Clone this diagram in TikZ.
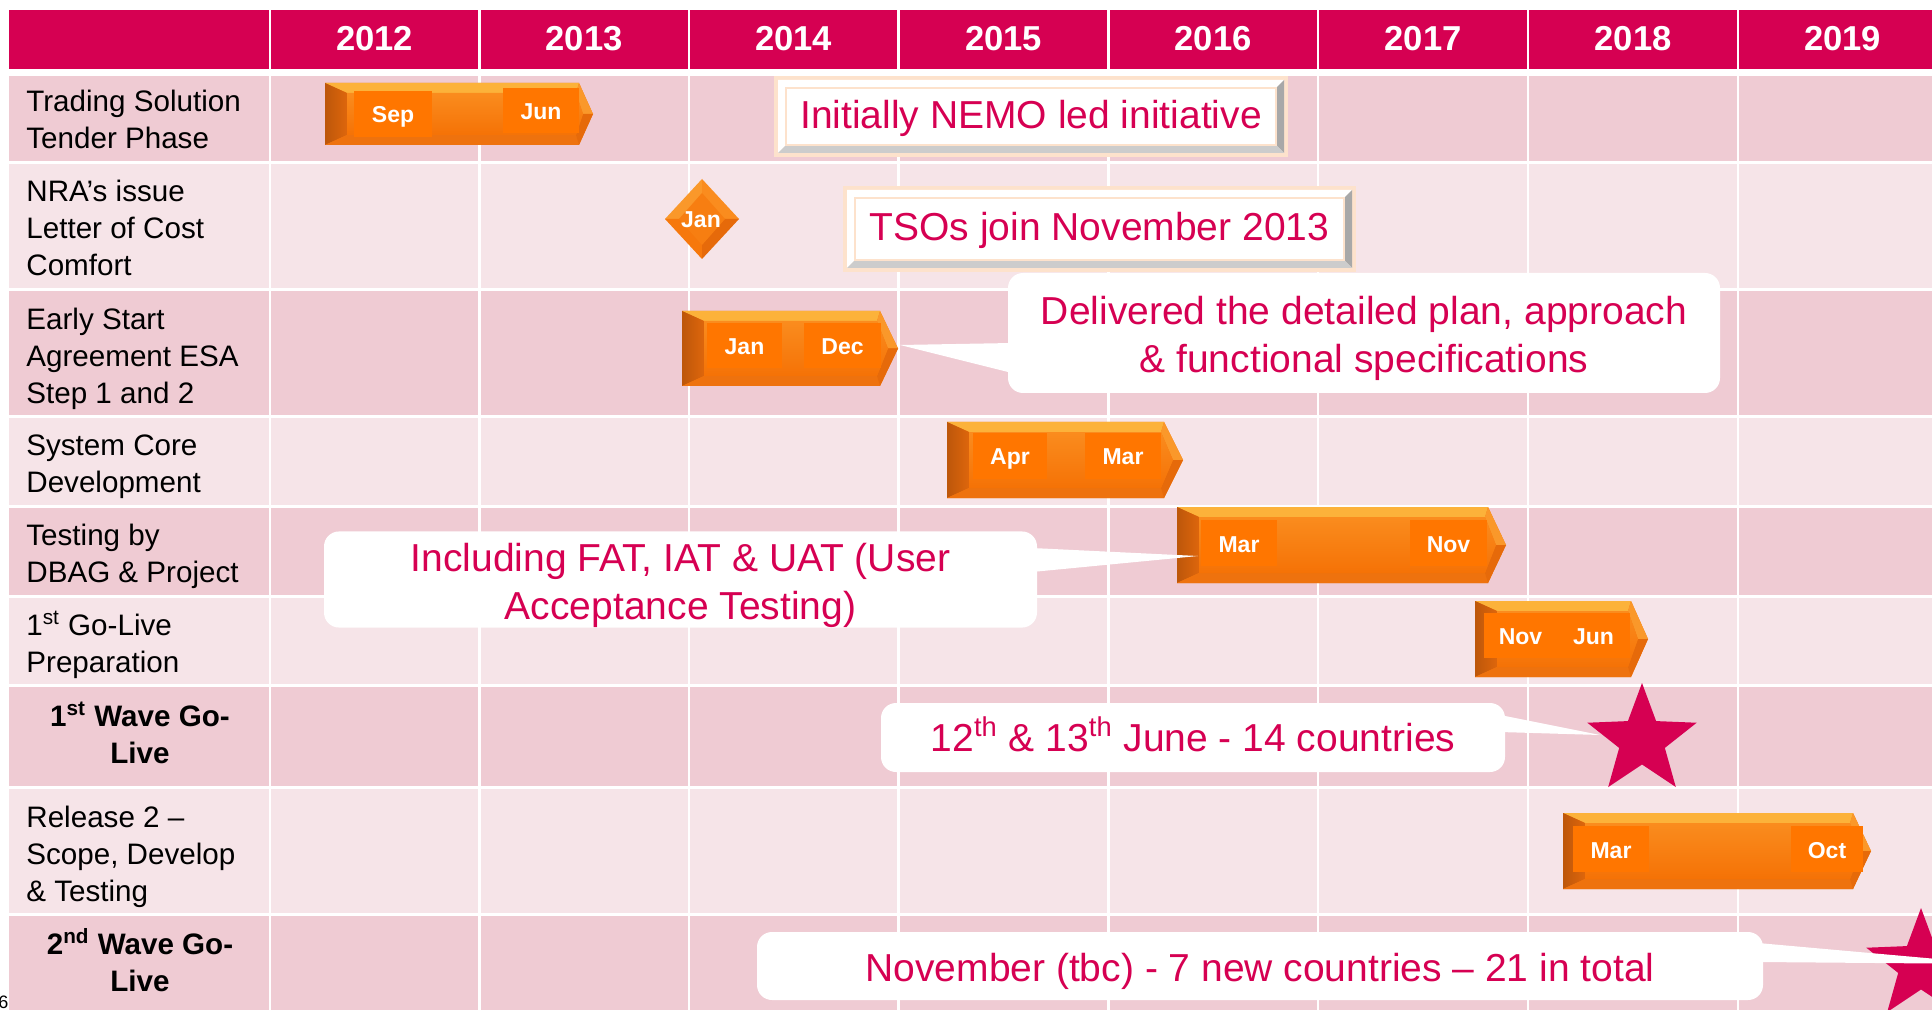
\documentclass[tikz,border=0pt]{standalone}
\usepackage{fontspec}
\setmainfont{Liberation Sans}
\usetikzlibrary{calc}
\definecolor{brand}{RGB}{214,0,82}
\definecolor{rowdark}{RGB}{239,203,211}
\definecolor{rowlight}{RGB}{246,228,232}
\definecolor{orMain}{RGB}{246,120,12}
\definecolor{orTop}{RGB}{252,178,58}
\definecolor{orLeft}{RGB}{222,102,12}
\definecolor{orBot}{RGB}{238,114,14}
\definecolor{orRU}{RGB}{250,152,42}
\definecolor{orRL}{RGB}{230,106,10}
\definecolor{orFaceT}{RGB}{250,140,30}
\definecolor{orFaceB}{RGB}{245,114,6}
\definecolor{orLab}{RGB}{255,118,0}
\definecolor{peach}{RGB}{253,226,204}
\definecolor{bevgray}{RGB}{204,204,204}
\definecolor{bevdark}{RGB}{168,168,168}

\newcommand{\orangebar}[5]{%
  \pgfmathsetmacro{\ymid}{(#4+#5)/2}
  \fill[orMain] (#1,#4) -- (#2,#4) -- (#3,\ymid) -- (#2,#5) -- (#1,#5) -- cycle;
  \fill[orTop] (#1,#4) -- (#2,#4) -- ({#2-3},{#4+10}) -- ({#1+22},{#4+10}) -- cycle;
  \shade[left color=orLeft!85!black, right color=orLeft] (#1,#4) -- ({#1+22},{#4+10}) -- ({#1+22},{#5-10}) -- (#1,#5) -- cycle;
  \fill[orBot] (#1,#5) -- ({#1+22},{#5-10}) -- ({#2-3},{#5-10}) -- (#2,#5) -- cycle;
  \fill[orRU] (#2,#4) -- (#3,\ymid) -- ({#3-10},\ymid) -- ({#2-3},{#4+10}) -- cycle;
  \fill[orRL] (#2,#5) -- (#3,\ymid) -- ({#3-10},\ymid) -- ({#2-3},{#5-10}) -- cycle;
  \shade[top color=orFaceT, bottom color=orFaceB] ({#1+22},{#4+10}) -- ({#2-3},{#4+10}) -- ({#3-10},\ymid) -- ({#2-3},{#5-10}) -- ({#1+22},{#5-10}) -- cycle;
}
\newcommand{\bevelframe}[4]{%
  \fill[peach] ({#1-12},{#2-12}) rectangle ({#3+12},{#4+12});
  \fill[white] ({#1-8},{#2-8}) -- ({#3+8},{#2-8}) -- (#3,#2) -- (#1,#2) -- (#1,#4) -- ({#1-8},{#4+8}) -- cycle;
  \fill[bevdark] ({#3+8},{#2-8}) -- ({#3+8},{#4+8}) -- (#3,#4) -- (#3,#2) -- cycle;
  \fill[bevgray] ({#1-8},{#4+8}) -- ({#3+8},{#4+8}) -- (#3,#4) -- (#1,#4) -- cycle;
}

\tikzset{
  yearlab/.style={anchor=base, inner sep=0pt, text=white, font=\fontsize{17.3}{20}\selectfont\bfseries},
  rowlab/.style={anchor=base west, inner sep=0pt, font=\fontsize{14.8}{18.5}\selectfont},
  rowlabb/.style={anchor=base, inner sep=0pt, font=\fontsize{14.8}{18.5}\selectfont\bfseries},
  blab/.style={fill=orLab, text=white, inner sep=0pt, font=\fontsize{11.5}{13}\selectfont\bfseries, text height=10pt, text depth=1pt},
  callout/.style={fill=white, rounded corners=7.5pt, text=brand, inner sep=0pt, align=center, font=\fontsize{19.5}{24}\selectfont},
  bevface/.style={fill=white, draw=peach, line width=1.2pt, text=brand, inner sep=0pt, font=\fontsize{19.5}{24}\selectfont, text height=13pt, text depth=1pt},
  ptr/.style={fill=white},
  starc/.style={fill=brand},
}

\begin{document}
\begin{tikzpicture}[x=0.5pt, y=-0.5pt]
\useasboundingbox[fill=white] (0,0) rectangle (1932,1010);

% header
\fill[brand] (9,10) rectangle (1932,69);
% rows
\fill[rowdark]  (9,76)  rectangle (1932,161);
\fill[rowlight] (9,164) rectangle (1932,288);
\fill[rowdark]  (9,291) rectangle (1932,415);
\fill[rowlight] (9,418) rectangle (1932,505);
\fill[rowdark]  (9,508) rectangle (1932,595);
\fill[rowlight] (9,598) rectangle (1932,684);
\fill[rowdark]  (9,687) rectangle (1932,786);
\fill[rowlight] (9,789) rectangle (1932,913);
\fill[rowdark]  (9,916) rectangle (1932,1010);
% column lines
\foreach \cx in {270,479.5,689,898.5,1108.5,1318,1528,1738}
  \draw[white, line width=1.1pt] (\cx,10) -- (\cx,1010);

% years
\node[yearlab] (y12) at (374.7,51) {2012};
\node[yearlab] (y13) at (584.2,51) {2013};
\node[yearlab] (y14) at (793.7,51) {2014};
\node[yearlab] (y15) at (1003.5,51) {2015};
\node[yearlab] (y16) at (1213.2,51) {2016};
\node[yearlab] (y17) at (1423,51) {2017};
\node[yearlab] (y18) at (1633,51) {2018};
\node[yearlab] (y19) at (1842.7,51) {2019};

% row labels
\node[rowlab] (r1) at (26,112) {\begin{tabular}[t]{@{}l@{}}Trading Solution\\Tender Phase\end{tabular}};
\node[rowlab] (r2) at (26,202) {\begin{tabular}[t]{@{}l@{}}NRA’s issue\\Letter of Cost\\Comfort\end{tabular}};
\node[rowlab] (r3) at (26,330) {\begin{tabular}[t]{@{}l@{}}Early Start\\Agreement ESA\\Step 1 and 2\end{tabular}};
\node[rowlab] (r4) at (26,455) {\begin{tabular}[t]{@{}l@{}}System Core\\Development\end{tabular}};
\node[rowlab] (r5) at (26,545) {\begin{tabular}[t]{@{}l@{}}Testing by\\DBAG \& Project\end{tabular}};
\node[rowlab] (r6) at (26,635) {\begin{tabular}[t]{@{}l@{}}1\textsuperscript{st} Go-Live\\Preparation\end{tabular}};
\node[rowlabb] (r7) at (140,726) {\begin{tabular}[t]{@{}c@{}}1\textsuperscript{st} Wave Go-\\Live\end{tabular}};
\node[rowlab] (r8) at (26,827) {\begin{tabular}[t]{@{}l@{}}Release 2 –\\Scope, Develop\\\& Testing\end{tabular}};
\node[rowlabb] (r9) at (140,954) {\begin{tabular}[t]{@{}c@{}}2\textsuperscript{nd} Wave Go-\\Live\end{tabular}};

% bevel callouts
\bevelframe{786}{88}{1276}{145}
\node[bevface, minimum width=245pt, minimum height=28.5pt] (c1) at (1031,116.5) {Initially NEMO led initiative};
\bevelframe{855}{198}{1344}{260}
\node[bevface, minimum width=244.5pt, minimum height=31pt] (c2) at (1099.5,229) {TSOs join November 2013};

% bar 1
\orangebar{325}{579}{593}{83}{145}
\node[blab, minimum width=39pt, minimum height=23pt] (b1s) at (393,114) {Sep};
\node[blab, minimum width=38pt, minimum height=22.5pt] (b1e) at (541,110.5) {Jun};

% diamond
\coordinate (dc) at (702,219);
\fill[orRU] (702,179) -- (665,219) -- (dc) -- cycle;
\fill[orFaceT] (702,179) -- (739,219) -- (dc) -- cycle;
\fill[orMain] (665,219) -- (702,259) -- (dc) -- cycle;
\fill[orRL] (739,219) -- (702,259) -- (dc) -- cycle;
\fill[orMain!90!orTop] (702,193) -- (679,219) -- (702,245) -- (725,219) -- cycle;
\node[inner sep=0pt, text=white, font=\fontsize{11.5}{13}\selectfont\bfseries, anchor=base] (d2) at (701,228) {Jan};

% bar 3
\orangebar{682}{880}{898}{311}{386}
\node[blab, minimum width=37.5pt, minimum height=22.5pt] (b3s) at (744.5,345.5) {Jan};
\node[blab, minimum width=38.5pt, minimum height=22.5pt] (b3e) at (842.5,345.5) {Dec};

% bar 4
\orangebar{947}{1164}{1183}{422}{498}
\node[blab, minimum width=37pt, minimum height=23pt] (b4s) at (1010,456) {Apr};
\node[blab, minimum width=38pt, minimum height=23pt] (b4e) at (1123,456) {Mar};

% bar 5
\orangebar{1177}{1488}{1506}{507}{583}
\node[blab, minimum width=38pt, minimum height=23pt] (b5s) at (1239,543) {Mar};
\node[blab, minimum width=38.5pt, minimum height=23pt] (b5e) at (1448.5,543) {Nov};

% bar 6
\orangebar{1475}{1631}{1648}{601}{677}
\node[blab, minimum width=36.5pt, minimum height=22.5pt] (b6s) at (1520.5,635.5) {Nov};
\node[blab, minimum width=36.5pt, minimum height=22.5pt] (b6e) at (1593.5,635.5) {Jun};

% bar 8
\orangebar{1563}{1853}{1871}{813}{889}
\node[blab, minimum width=38pt, minimum height=23pt] (b8s) at (1611,849) {Mar};
\node[blab, minimum width=36pt, minimum height=23pt] (b8e) at (1827,849) {Oct};

% callout 3
\node[callout, minimum width=356pt, minimum height=60pt] (c3) at (1364,333) {\rule{0pt}{19.5pt}Delivered the detailed plan, approach\\\& functional specifications};
\coordinate (p3a) at (1012,343);
\coordinate (p3b) at (1012,373);
\coordinate (p3t) at (900,345);
\fill[ptr] (p3a) -- (p3t) -- (p3b) -- cycle;

% callout 5
\node[callout, minimum width=356.5pt, minimum height=47.5pt] (c5) at (680.5,579.5) {\rule{0pt}{20pt}Including FAT, IAT \& UAT (User\\Acceptance Testing)};
\coordinate (p5a) at (1032,548);
\coordinate (p5b) at (1032,572);
\coordinate (p5t) at (1198,556);
\fill[ptr] (p5a) -- (p5t) -- (p5b) -- cycle;

% callout 7 and star 1
\node[callout, minimum width=312pt, minimum height=34.5pt, text height=15pt, text depth=1pt] (c7) at (1193,737.5) {12\textsuperscript{th} \& 13\textsuperscript{th} June - 14 countries};
\coordinate (p7a) at (1500,715);
\coordinate (p7b) at (1500,732);
\coordinate (p7t) at (1600,735);
\fill[ptr] (p7a) -- (p7t) -- (p7b) -- cycle;
\coordinate (s1) at (1642,740.5);
\fill[starc] (s1) +(-90:57.5) -- +(-54:24) -- +(-18:57.5) -- +(18:24) -- +(54:57.5) -- +(90:24) -- +(126:57.5) -- +(162:24) -- +(198:57.5) -- +(234:24) -- cycle;

% star 2 and callout 9
\coordinate (s2) at (1921,965.5);
\fill[starc] (s2) +(-90:57.5) -- +(-54:24) -- +(-18:57.5) -- +(18:24) -- +(54:57.5) -- +(90:24) -- +(126:57.5) -- +(162:24) -- +(198:57.5) -- +(234:24) -- cycle;
\node[callout, minimum width=503pt, minimum height=34pt, text height=16pt, text depth=1pt] (c9) at (1260,966) {November (tbc) - 7 new countries – 21 in total};
\coordinate (p9a) at (1758,943);
\coordinate (p9b) at (1758,962);
\coordinate (p9t) at (1993,964);
\fill[ptr] (p9a) -- (p9t) -- (p9b) -- cycle;

% page number
\node[anchor=base west, inner sep=0pt, font=\fontsize{9}{10}\selectfont] (pg) at (-2,1008) {6};
\end{tikzpicture}
\end{document}
